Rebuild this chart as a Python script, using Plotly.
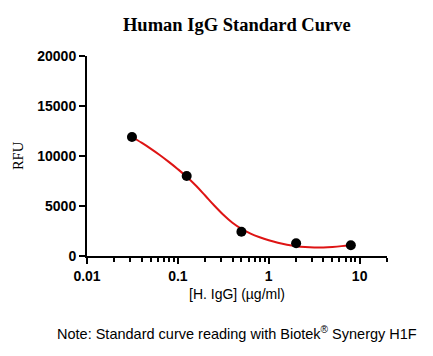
import plotly.graph_objects as go

# Measured standards
conc = [0.03125, 0.125, 0.5, 2, 8]
rfu = [11900, 8000, 2430, 1270, 1080]

# Fitted curve
curve_x = [0.03125, 0.0398, 0.0501, 0.0631, 0.0794, 0.1, 0.125, 0.1585, 0.1995,
           0.2512, 0.3162, 0.3981, 0.5012, 0.631, 0.7943, 1.0, 1.259, 1.585,
           1.995, 2.512, 3.162, 3.981, 5.012, 6.31, 8.0]
curve_y = [11900, 11330, 10740, 10100, 9410, 8680, 7930, 7030, 6050,
           5050, 4120, 3320, 2710, 2240, 1880, 1580, 1330, 1130,
           980, 890, 846, 849, 896, 988, 1135]

y_ticks = [0, 5000, 10000, 15000, 20000]
y_tick_labels = ["0", "5000", "10000", "15000", "20000"]
x_ticks = [0.01, 0.1, 1, 10]
x_tick_labels = ["0.01", "0.1", "1", "10"]

fig = go.Figure()
fig.add_trace(go.Scatter(x=curve_x, y=curve_y, mode="lines",
                         line=dict(color="rgb(222,20,20)", width=2, shape="spline", smoothing=1),
                         hoverinfo="skip"))
fig.add_trace(go.Scatter(x=conc, y=rfu, mode="markers",
                         marker=dict(color="black", size=10)))

tickfont = dict(family="Liberation Sans, Arial", size=14, color="black")

fig.update_layout(
    width=433, height=356,
    margin=dict(l=87, r=46, t=56, b=100, autoexpand=False),
    paper_bgcolor="white", plot_bgcolor="white",
    showlegend=False,
    title=dict(text="<b>Human IgG Standard Curve</b>", x=0.547, xanchor="center",
               y=0.93, yanchor="middle",
               font=dict(family="Liberation Serif, Times New Roman", size=18.5, color="black")),
    xaxis=dict(type="log", range=[-2, 1.301], tickvals=x_ticks,
               ticktext=["<b>%s</b>" % t for t in x_tick_labels],
               showline=True, linecolor="black", linewidth=2, mirror=False, automargin=False,
               ticks="outside", ticklen=6, tickwidth=2, tickcolor="black",
               minor=dict(ticks="outside", ticklen=4, tickwidth=1.5, tickcolor="black",
                          tickvals=[v * d for d in (0.01, 0.1, 1, 10) for v in range(2, 10)] + [20]),
               showgrid=False, zeroline=False, tickfont=tickfont,
               title=dict(text="[H. IgG] (µg/ml)", standoff=6,
                          font=dict(family="Liberation Sans, Arial", size=14, color="black"))),
    yaxis=dict(range=[0, 20000], tickvals=y_ticks,
               ticktext=["<b>%s</b>" % t for t in y_tick_labels],
               showline=True, linecolor="black", linewidth=2, automargin=False,
               ticks="outside", ticklen=6, tickwidth=2, tickcolor="black",
               showgrid=False, zeroline=False, tickfont=tickfont,
               title=dict(text="RFU", standoff=10,
                          font=dict(family="Liberation Serif, Times New Roman", size=14.5, color="black"))),
    annotations=[dict(text="Note: Standard curve reading with Biotek<sup>®</sup> Synergy H1F",
                      xref="paper", yref="paper", x=0.5, y=-0.385, xanchor="center",
                      yanchor="middle", showarrow=False,
                      font=dict(family="Liberation Sans, Arial", size=14.5, color="black"))],
)

fig.write_html("out.html", config={"displayModeBar": False},
               post_script="document.body.style.margin='0';document.body.style.overflow='hidden';")
